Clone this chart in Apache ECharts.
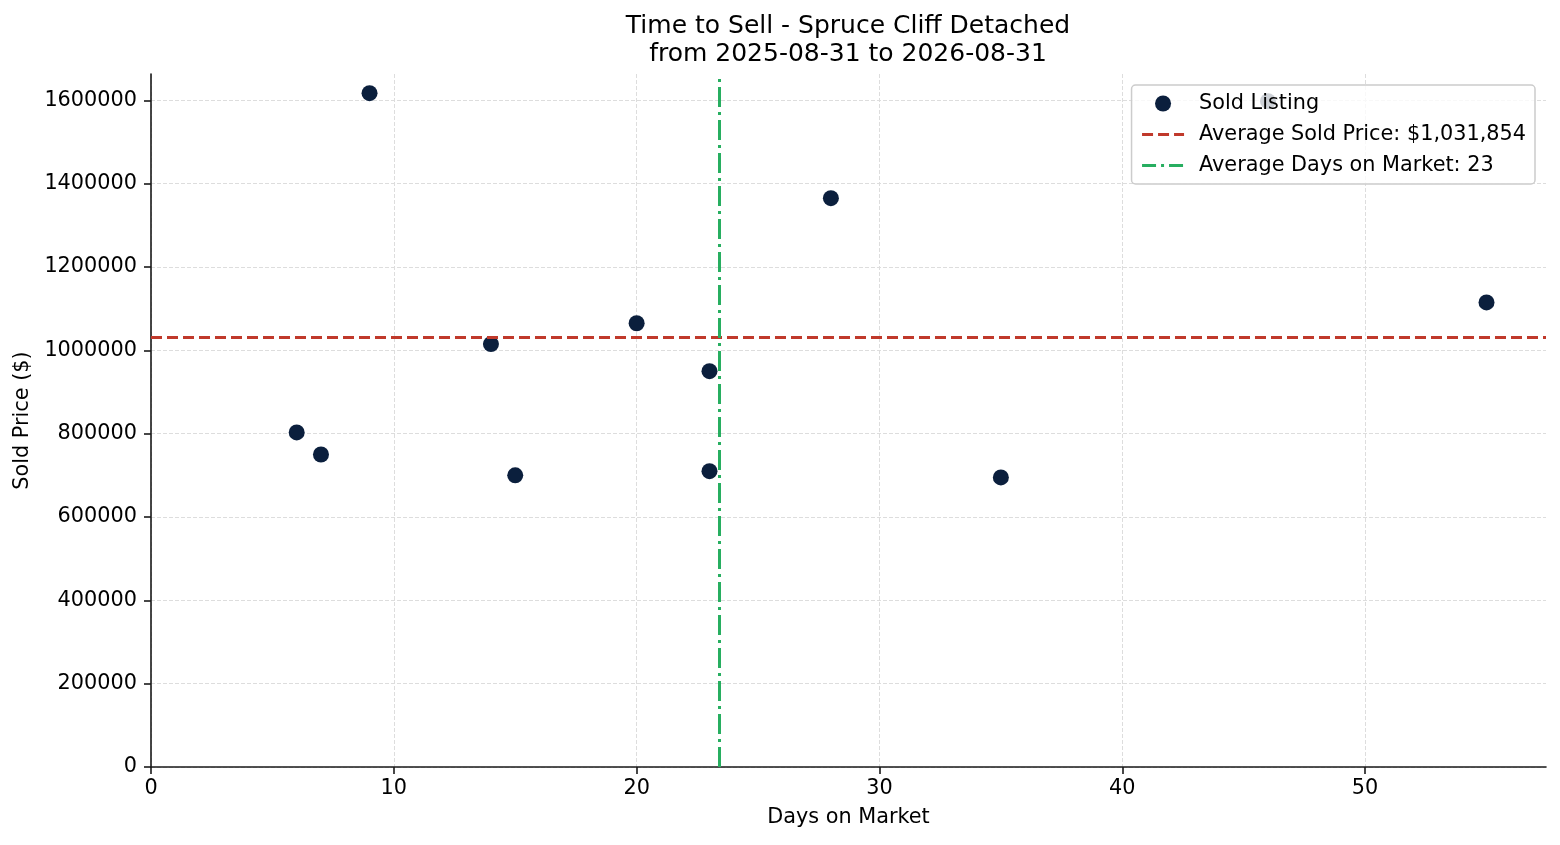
<!DOCTYPE html>
<html>
<head>
<meta charset="utf-8">
<title>Time to Sell - Spruce Cliff Detached</title>
<script src="https://cdn.jsdelivr.net/npm/echarts@6.0.0/dist/echarts.min.js"></script>
<style>
  html, body { margin: 0; padding: 0; background: #fff; }
  #chart { width: 1560px; height: 845px; }
</style>
</head>
<body>
<div id="chart"></div>
<script>
// sold listings
var daysOnMarket = [6, 7, 9, 14, 15, 20, 23, 23, 28, 35, 46, 55];
var soldPrices = [803000, 750000, 1617000, 1015000, 700000, 1065000, 950000, 710000, 1365000, 695000, 1598000, 1115000];

// average price as printed in the legend
var avgSoldPrice = 1031854;

var xTicks = [0, 10, 20, 30, 40, 50];
var yTicks = [0, 200000, 400000, 600000, 800000, 1000000, 1200000, 1400000, 1600000];

var avgDays = daysOnMarket.reduce(function (a, b) { return a + b; }, 0) / daysOnMarket.length;

var points = daysOnMarket.map(function (d, i) { return [d, soldPrices[i]]; });

var fontFam = 'DejaVu Sans';
var priceName = 'Average Sold Price: $' + avgSoldPrice.toLocaleString('en-US');
var daysName = 'Average Days on Market: ' + Math.round(avgDays);

var redCol = '#c0392b';
var greenCol = '#27ae60';

var myChart = echarts.init(document.getElementById('chart'));
var option = {
    animation: false,
    textStyle: { fontFamily: fontFam },
    title: {
        text: 'Time to Sell - Spruce Cliff Detached\nfrom 2025-08-31 to 2026-08-31',
        left: 843,
        top: 7,
        textAlign: 'center',
        textStyle: { fontFamily: fontFam, fontSize: 25, fontWeight: 'normal', color: '#000', lineHeight: 28 }
    },
    legend: {
        orient: 'vertical',
        right: 25,
        top: 85,
        padding: [8, 9, 8, 9],
        itemWidth: 42,
        itemHeight: 16,
        itemGap: 10,
        itemTextGap: 16,
        backgroundColor: 'rgba(255,255,255,0.8)',
        borderColor: '#cccccc',
        borderWidth: 1.5,
        borderRadius: 4,
        textStyle: { fontFamily: fontFam, fontSize: 20.8, color: '#000', lineHeight: 20, padding: [0, 0, 0, 10] },
        data: [
            { name: 'Sold Listing' },
            { name: priceName, icon: 'inherit', itemStyle: { opacity: 0 },
              lineStyle: { width: 3, color: redCol, type: [11, 5] } },
            { name: daysName, icon: 'inherit', itemStyle: { opacity: 0 },
              lineStyle: { width: 3, color: greenCol, type: [14, 5, 3, 5] } }
        ]
    },
    grid: { left: 151, right: 14, top: 74, bottom: 78, outerBoundsMode: 'none', containLabel: false },
    xAxis: {
        type: 'value',
        min: 0,
        max: 57.45,
        interval: 10,
        name: 'Days on Market',
        nameLocation: 'middle',
        nameGap: 40,
        nameTextStyle: { fontFamily: fontFam, fontSize: 20.8, color: '#000' },
        axisLine: { onZero: false, lineStyle: { color: '#1a1a1a', width: 1.6 } },
        axisTick: { show: true, length: 7, lineStyle: { color: '#1a1a1a', width: 1.6 }, customValues: xTicks },
        axisLabel: { fontFamily: fontFam, fontSize: 20.8, color: '#000', margin: 11, customValues: xTicks },
        splitLine: { show: true, lineStyle: { color: '#dddddd', width: 1, type: [4, 2] } }
    },
    yAxis: {
        type: 'value',
        min: 0,
        max: 1663100,
        interval: 200000,
        name: 'Sold Price ($)',
        nameLocation: 'middle',
        nameGap: 116,
        nameTextStyle: { fontFamily: fontFam, fontSize: 20.8, color: '#000' },
        axisLine: { show: true, onZero: false, lineStyle: { color: '#1a1a1a', width: 1.6 } },
        axisTick: { show: true, length: 7, lineStyle: { color: '#1a1a1a', width: 1.6 }, customValues: yTicks },
        axisLabel: {
            fontFamily: fontFam, fontSize: 20.8, color: '#000', margin: 14, customValues: yTicks,
            formatter: function (v) { return String(v); }
        },
        splitLine: { show: true, lineStyle: { color: '#dddddd', width: 1, type: [4, 2] } }
    },
    series: [
        {
            name: 'Sold Listing',
            type: 'scatter',
            symbol: 'circle',
            symbolSize: 16,
            itemStyle: { color: '#0b1f3d', opacity: 1 },
            data: points,
            z: 3
        },
        {
            name: priceName,
            type: 'line',
            symbol: 'none',
            data: [],
            lineStyle: { color: redCol, width: 3, type: [11, 5] },
            itemStyle: { color: redCol },
            markLine: {
                silent: true,
                symbol: 'none',
                label: { show: false },
                lineStyle: { color: redCol, width: 3, type: [11, 5] },
                data: [{ yAxis: avgSoldPrice }]
            },
            z: 2
        },
        {
            name: daysName,
            type: 'line',
            symbol: 'none',
            data: [],
            lineStyle: { color: greenCol, width: 3, type: [20, 5, 3, 5] },
            itemStyle: { color: greenCol },
            markLine: {
                silent: true,
                symbol: 'none',
                label: { show: false },
                lineStyle: { color: greenCol, width: 3, type: [20, 5, 3, 5] },
                data: [{ xAxis: avgDays }]
            },
            z: 2
        }
    ]
};
myChart.setOption(option);
</script>
</body>
</html>
